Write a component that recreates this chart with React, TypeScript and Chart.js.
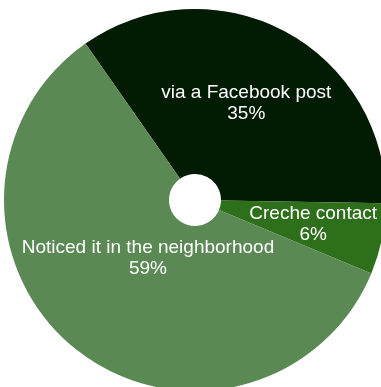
import React, { useEffect, useRef } from "react";
import { Chart, registerables } from "chart.js";

Chart.register(...registerables);

const categories: string[] = ["via a Facebook post", "Creche contact", "Noticed it in the neighborhood"];
const values: number[] = [35, 6, 59];
const percentLabels: string[] = ["35%", "6%", "59%"];
const sliceColors: string[] = ["#021b03", "#2d6f1a", "#5a8954"];
const labelRadiusFractions: number[] = [0.572, 0.632, 0.393];

const sliceLabelPlugin = {
  id: "sliceLabels",
  afterDatasetsDraw(chart: any) {
    const ctx = chart.ctx;
    const meta = chart.getDatasetMeta(0);
    ctx.save();
    ctx.fillStyle = "#ffffff";
    ctx.font = '19px "Liberation Sans", Arial, Helvetica, sans-serif';
    ctx.textAlign = "center";
    ctx.textBaseline = "middle";
    const lineHeight = 21;
    meta.data.forEach((arc: any, i: number) => {
      const { x, y, startAngle, endAngle, outerRadius } = arc.getProps(
        ["x", "y", "startAngle", "endAngle", "outerRadius"],
        true
      );
      const mid = (startAngle + endAngle) / 2;
      const r = outerRadius * labelRadiusFractions[i];
      const cx = x + Math.cos(mid) * r;
      const cy = y + Math.sin(mid) * r;
      ctx.fillText(categories[i], cx, cy - lineHeight / 2);
      ctx.fillText(percentLabels[i], cx, cy + lineHeight / 2);
    });
    ctx.restore();
  },
};

export default function App() {
  const canvasRef = useRef<HTMLCanvasElement | null>(null);

  useEffect(() => {
    if (!canvasRef.current) return;
    const chart = new Chart(canvasRef.current, {
      type: "doughnut",
      data: {
        labels: categories,
        datasets: [
          {
            data: values,
            backgroundColor: sliceColors,
            borderWidth: 0,
            hoverOffset: 0,
          },
        ],
      },
      options: {
        animation: false,
        responsive: true,
        maintainAspectRatio: false,
        rotation: -35,
        cutout: 26,
        layout: { padding: 0 },
        plugins: {
          legend: { display: false },
          tooltip: { enabled: false },
        },
      },
      plugins: [sliceLabelPlugin],
    });
    return () => chart.destroy();
  }, []);

  return (
    <div
      style={{
        position: "fixed",
        left: 0,
        top: 0,
        width: 381,
        height: 387,
        overflow: "hidden",
        background: "#ffffff",
      }}
    >
      <div style={{ position: "absolute", left: 4, top: 9, width: 382, height: 382 }}>
        <canvas ref={canvasRef} />
      </div>
    </div>
  );
}
